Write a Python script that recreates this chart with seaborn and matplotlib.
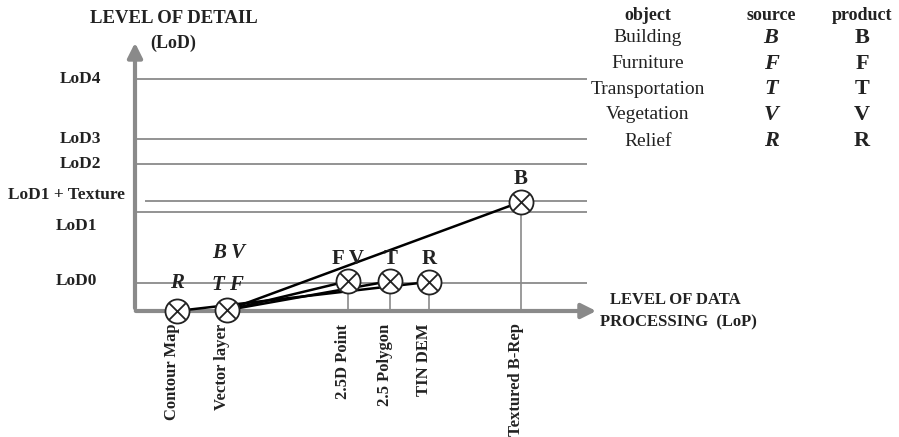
import numpy as np
import pandas as pd
import matplotlib.pyplot as plt
import seaborn as sns

# ---- data ----
lop_labels = ["Contour Map", "Vector layer", "2.5D Point", "2.5 Polygon", "TIN DEM", "Textured B-Rep"]
lop_x = [1.05, 2.3, 5.33, 6.38, 7.35, 9.65]
point_y = [0.0, 0.03, 1.07, 1.07, 1.04, 3.9]

lod_labels = ["LoD0", "LoD1", "LoD1 + Texture", "LoD2", "LoD3", "LoD4"]
lod_y = [1.0, 3.54, 3.93, 5.25, 6.14, 8.29]

# connections (from, to)
edges = [("Contour Map", "TIN DEM"),
         ("Vector layer", "2.5D Point"),
         ("Vector layer", "2.5 Polygon"),
         ("Vector layer", "Textured B-Rep")]

source_marks = {"Contour Map": ["R"], "Vector layer": ["B V", "T F"]}
product_marks = {"2.5D Point": "F V", "2.5 Polygon": "T", "TIN DEM": "R", "Textured B-Rep": "B"}

legend_objects = ["Building", "Furniture", "Transportation", "Vegetation", "Relief"]
legend_source = ["B", "F", "T", "V", "R"]
legend_product = ["B", "F", "T", "V", "R"]

# ---- style ----
sns.set_style("white")
plt.rcParams["font.family"] = ["Liberation Serif", "DejaVu Serif"]
GRAY = "#8a8a8a"
INK = "#222222"

fig = plt.figure(figsize=(8.99, 4.37), dpi=100)
ax = fig.add_axes([0, 0, 1, 1])
ax.set_xlim(-3.375, 19.1)
ax.set_ylim(-4.5, 11.107)
ax.axis("off")

pos = dict(zip(lop_labels, zip(lop_x, point_y)))

# horizontal LoD lines
for lab, y in zip(lod_labels, lod_y):
    x0 = 0.25 if lab == "LoD1 + Texture" else 0.0
    ax.hlines(y, x0, 11.3, color=GRAY, lw=1.3, zorder=1)

# axes arrows
ax.annotate("", xy=(0, 9.68), xytext=(0, 0),
            arrowprops=dict(arrowstyle="-|>", color=GRAY, lw=3, mutation_scale=22), zorder=2)
ax.annotate("", xy=(11.6, 0), xytext=(-0.05, 0),
            arrowprops=dict(arrowstyle="-|>", color=GRAY, lw=3, mutation_scale=22), zorder=2)

# vertical connectors from products to axis
for lab in product_marks:
    x, y = pos[lab]
    ax.vlines(x, 0, y, color=GRAY, lw=1.2, zorder=1)

# connection lines
rows = []
for i, (a, b) in enumerate(edges):
    for n in (a, b):
        rows.append({"edge": i, "x": pos[n][0], "y": pos[n][1]})
df_edges = pd.DataFrame(rows)
sns.lineplot(data=df_edges, x="x", y="y", units="edge", estimator=None, sort=False,
             color="black", lw=1.8, ax=ax, zorder=3)

# circled-X markers
df_pts = pd.DataFrame({"x": lop_x, "y": point_y})
sns.scatterplot(data=df_pts, x="x", y="y", marker="o", s=300, facecolor="white",
                edgecolor=INK, linewidth=1.3, ax=ax, zorder=4)
sns.scatterplot(data=df_pts, x="x", y="y", marker="x", s=145, color=INK,
                linewidth=1.3, ax=ax, zorder=5)
ax.set_xlabel("")
ax.set_ylabel("")

# LoD tick labels
lod_text_pos = {"LoD0": (-1.47, 1.07), "LoD1": (-1.47, 3.04), "LoD1 + Texture": (-1.72, 4.14),
                "LoD2": (-1.37, 5.25), "LoD3": (-1.37, 6.14), "LoD4": (-1.37, 8.29)}
for lab in lod_labels:
    x, y = lod_text_pos[lab]
    ax.text(x, y, lab, ha="center", va="center", fontsize=12.5, fontweight="bold", color=INK)

# LoP tick labels
for lab, x in zip(lop_labels, lop_x):
    ax.text(x - 0.12, -0.45, lab, rotation=90, ha="center", va="top",
            fontsize=12, fontweight="bold", color=INK)

# source letters (italic)
src_y = {"R": 1.0, "B V": 2.07, "T F": 0.93}
for lab, marks in source_marks.items():
    for m in marks:
        ax.text(pos[lab][0] + (0.03 if lab == "Vector layer" else 0), src_y[m], m,
                ha="center", va="center", fontsize=15, fontweight="bold",
                fontstyle="italic", color=INK)

# product letters
for lab, m in product_marks.items():
    x, y = pos[lab]
    ax.text(x, y + 0.8, m, ha="center", va="center", fontsize=15,
            fontweight="bold", color=INK)

# axis titles
ax.text(0.975, 10.46, "LEVEL OF DETAIL", ha="center", va="center",
        fontsize=13.5, fontweight="bold", color=INK)
ax.text(0.95, 9.57, "(LoD)", ha="center", va="center",
        fontsize=13, fontweight="bold", color=INK)
ax.text(11.875, 0.39, "LEVEL OF DATA", ha="left", va="center",
        fontsize=12, fontweight="bold", color=INK)
ax.text(11.625, -0.39, "PROCESSING  (LoP)", ha="left", va="center",
        fontsize=12, fontweight="bold", color=INK)

# legend table
col_x = [648 / 899, 771 / 899, 862 / 899]
for cx, h in zip(col_x, ["object", "source", "product"]):
    fig.text(cx, 1 - 16 / 437, h, ha="center", va="center", fontsize=13, fontweight="bold", color=INK)
row_y = [38, 64, 89, 115, 141]
for py, o, s, p in zip(row_y, legend_objects, legend_source, legend_product):
    yy = 1 - py / 437
    fig.text(col_x[0], yy, o, ha="center", va="center", fontsize=14, color=INK)
    fig.text(col_x[1], yy, s, ha="center", va="center", fontsize=16,
             fontweight="bold", fontstyle="italic", color=INK)
    fig.text(col_x[2], yy, p, ha="center", va="center", fontsize=16,
             fontweight="bold", color=INK)

fig.savefig("out.png", dpi=100)
